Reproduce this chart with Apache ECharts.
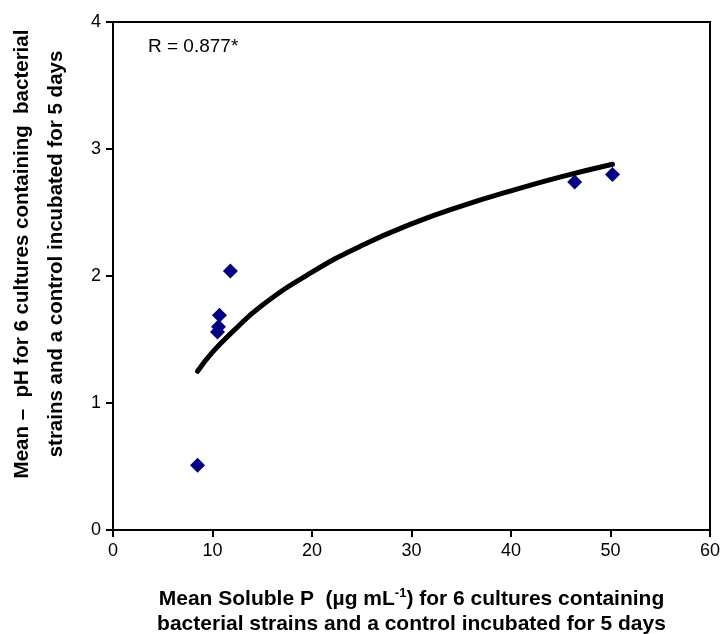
<!DOCTYPE html>
<html>
<head>
<meta charset="utf-8">
<title>Soluble P vs pH</title>
<script src="https://cdn.jsdelivr.net/npm/echarts@6/dist/echarts.min.js"></script>
<style>
  body { margin: 0; background: #fff; }
  #chart { width: 723px; height: 634px; }
</style>
</head>
<body>
<div id="chart"></div>
<script>
// measured points: mean soluble P (x) and mean pH drop (y)
var solubleP = [8.5, 10.5, 10.6, 10.7, 11.8, 46.4, 50.2];
var phDrop   = [0.51, 1.56, 1.60, 1.69, 2.04, 2.74, 2.80];

// logarithmic trend line
var trendX = [8.5, 10, 12, 15, 20, 25, 30, 35, 40, 45, 50.2];
var trendY = [1.25, 1.40, 1.56, 1.77, 2.03, 2.24, 2.41, 2.55, 2.67, 2.78, 2.88];

var xTicks = [0, 10, 20, 30, 40, 50, 60];
var yTicks = [0, 1, 2, 3, 4];

var font = '"Liberation Sans", Arial, sans-serif';

var points = solubleP.map(function (x, i) { return [x, phDrop[i]]; });
var trend = trendX.map(function (x, i) { return [x, trendY[i]]; });

var chart = echarts.init(document.getElementById('chart'));
var option = {
  animation: false,
  textStyle: { fontFamily: font },
  grid: {
    left: 113, right: 13, top: 22, bottom: 104,
    containLabel: false, outerBoundsMode: 'none',
    show: true, borderColor: '#000', borderWidth: 2
  },
  xAxis: {
    type: 'value',
    min: xTicks[0], max: xTicks[xTicks.length - 1], interval: 10,
    splitLine: { show: false },
    axisLine: { lineStyle: { color: '#000', width: 2 } },
    axisTick: { length: 7, lineStyle: { color: '#000', width: 2 } },
    axisLabel: { color: '#000', fontSize: 18, margin: 12, fontFamily: font },
    name: 'Mean Soluble P  (µg mL{sup|-1}) for 6 cultures containing\nbacterial strains and a control incubated for 5 days',
    nameLocation: 'middle',
    nameGap: 57,
    nameTextStyle: {
      color: '#000', fontSize: 21, fontWeight: 'bold', lineHeight: 25, fontFamily: font,
      rich: {
        sup: { fontSize: 13, fontWeight: 'bold', verticalAlign: 'top', lineHeight: 12, padding: [0, 0, 10, 0] }
      }
    }
  },
  yAxis: {
    type: 'value',
    min: yTicks[0], max: yTicks[yTicks.length - 1], interval: 1,
    splitLine: { show: false },
    axisLine: { lineStyle: { color: '#000', width: 2 } },
    axisTick: { length: 7, lineStyle: { color: '#000', width: 2 } },
    axisLabel: { color: '#000', fontSize: 18, margin: 12, fontFamily: font }
  },
  graphic: [{
    type: 'text', left: 148, top: 37,
    style: { text: 'R = 0.877*', fill: '#000', font: '19px ' + font }
  }, {
    type: 'text', x: 39, y: 254, rotation: Math.PI / 2,
    style: {
      text: 'Mean –  pH for 6 cultures containing  bacterial\nstrains and a control incubated for 5 days',
      fill: '#000', font: 'bold 20.5px ' + font, lineHeight: 34,
      align: 'center', verticalAlign: 'middle'
    }
  }],
  series: [{
    type: 'line',
    data: trend,
    smooth: true,
    showSymbol: false,
    lineStyle: { color: '#000', width: 5, cap: 'round' },
    z: 2
  }, {
    type: 'scatter',
    data: points,
    symbol: 'diamond',
    symbolSize: 15,
    itemStyle: { color: '#000080', opacity: 1 },
    z: 3
  }]
};
chart.setOption(option);
</script>
</body>
</html>
